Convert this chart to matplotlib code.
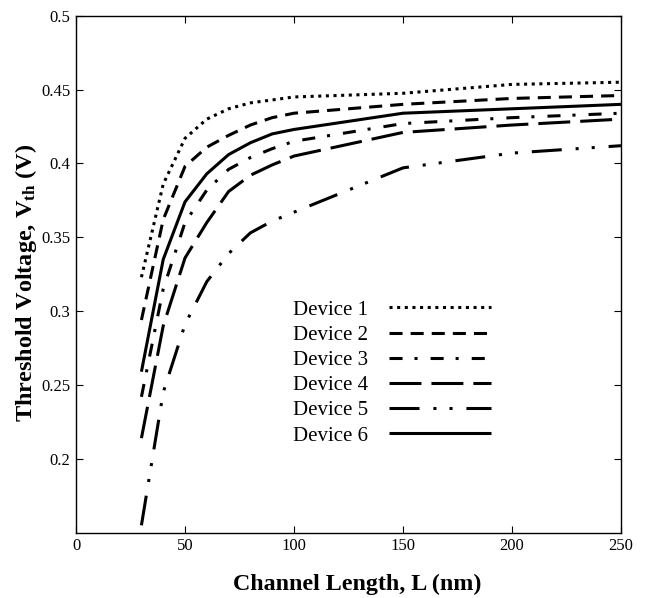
import numpy as np
import matplotlib
matplotlib.use("Agg")
import matplotlib.pyplot as plt

plt.rcParams['font.family'] = ['Liberation Serif', 'DejaVu Serif']
plt.rcParams['mathtext.default'] = 'regular'
plt.rcParams['lines.scale_dashes'] = False

# channel length (nm)
L_nm = [30, 40, 50, 60, 70, 80, 90, 100, 150, 200, 250]

# threshold voltage (V)
dev1 = [0.323, 0.386, 0.417, 0.430, 0.437, 0.441, 0.443, 0.445, 0.4475, 0.4535, 0.455]
dev2 = [0.294, 0.362, 0.398, 0.411, 0.419, 0.426, 0.431, 0.434, 0.440, 0.444, 0.446]
dev3 = [0.242, 0.315, 0.360, 0.382, 0.396, 0.404, 0.410, 0.415, 0.427, 0.431, 0.434]
dev4 = [0.214, 0.290, 0.336, 0.360, 0.381, 0.392, 0.399, 0.405, 0.421, 0.426, 0.430]
dev5 = [0.155, 0.245, 0.291, 0.320, 0.339, 0.353, 0.361, 0.367, 0.397, 0.407, 0.412]
dev6 = [0.259, 0.335, 0.374, 0.393, 0.406, 0.414, 0.420, 0.423, 0.434, 0.437, 0.440]

labels = ['Device 1', 'Device 2', 'Device 3', 'Device 4', 'Device 5', 'Device 6']
series = [dev1, dev2, dev3, dev4, dev5, dev6]

# dash patterns in points (scale_dashes off)
styles = [
    (0, (2.2, 3.3)),
    (0, (9.4, 5.8)),
    (0, (9.4, 8.6, 2.2, 9.4)),
    (0, (23.0, 7.2)),
    (0, (21.6, 10.0, 2.2, 9.4, 2.2, 10.0)),
    '-',
]

fig = plt.figure(figsize=(6.56, 5.98), dpi=100)
ax = fig.add_axes([0.1159, 0.1092, 0.8307, 0.8645])

for y, lab, ls in zip(series, labels, styles):
    ax.plot(L_nm, y, color='black', lw=2.2, linestyle=ls, label=lab,
            dash_capstyle='butt', solid_capstyle='butt')

ax.set_xlim(0, 250)
ax.set_ylim(0.15, 0.5)
ax.set_xticks([0, 50, 100, 150, 200, 250])
ax.set_yticks([0.2, 0.25, 0.3, 0.35, 0.4, 0.45, 0.5])
ax.set_yticklabels(['0.2', '0.25', '0.3', '0.35', '0.4', '0.45', '0.5'])
ax.tick_params(direction='in', top=True, right=True, length=5, width=0.8,
               labelsize=12, pad=4)
for s in ax.spines.values():
    s.set_linewidth(1.0)

ax.set_xlabel('Channel Length, L (nm)', fontsize=17.3, fontweight='bold')
ax.set_ylabel('Threshold Voltage, V$_{th}$ (V)', fontsize=17.5, fontweight='bold')
ax.xaxis.set_label_coords(0.5156, -0.0795)
ax.yaxis.set_label_coords(-0.068, 0.483)

ax.legend(loc='upper left', bbox_to_anchor=(0.4466, 0.4983),
          bbox_transform=fig.transFigure, frameon=False, markerfirst=False,
          fontsize=15, handlelength=4.9, handletextpad=1.0, labelspacing=0.27,
          borderpad=0, borderaxespad=0)

fig.savefig('out.png', dpi=100)
